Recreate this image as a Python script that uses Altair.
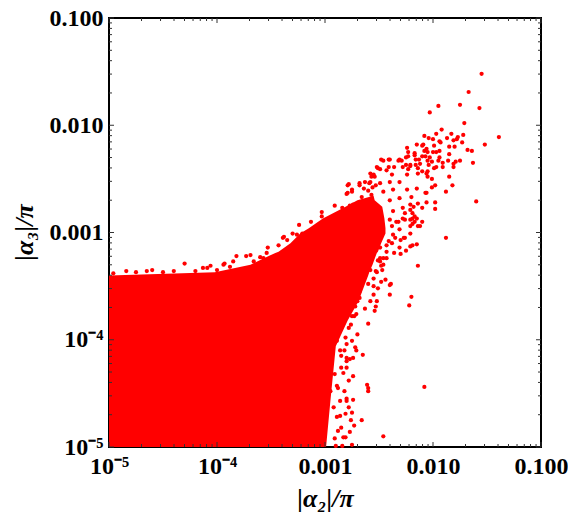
import altair as alt
import pandas as pd

# ---- scatter points (log10 of |alpha2|/pi and |alpha3|/pi) ----
a2_log10 = [
    -1.55, -1.67, -1.95, -1.75, -2.03, -1.57, -1.71, -1.92, -1.39, -1.52,
    -1.83, -1.72, -1.77, -1.78, -1.73, -1.81, -1.87, -1.97, -2.08, -2.04,
    -2.00, -1.94, -1.93, -1.85, -1.80, -1.68, -1.64, -1.63, -1.75, -1.79,
    -1.81, -1.81, -1.85, -1.86, -1.94, -1.94, -1.95, -1.91, -1.91, -1.99,
    -2.00, -1.97, -2.03, -2.01, -1.97, -1.99, -2.09, -2.06, -2.08, -2.15,
    -2.24, -2.23, -2.25, -2.17, -2.16, -2.13, -2.10, -2.05, -2.29, -2.25,
    -2.21, -2.23, -2.16, -2.14, -2.10, -2.05, -2.05, -2.01, -1.98, -2.01,
    -2.07, -1.98, -1.98, -1.88, -1.82, -1.85, -1.60, -2.06, -2.14, -2.10,
    -2.18, -2.19, -2.12, -2.10, -2.17, -2.48, -2.41, -2.46, -2.32, -2.52,
    -2.49, -2.43, -2.36, -2.58, -2.54, -2.63, -2.59, -2.56, -2.78, -2.79,
    -2.68, -2.64, -2.60, -2.53, -2.91, -2.77, -2.84, -3.03, -3.03, -3.13,
    -3.24, -3.38, -3.35, -3.30, -3.21, -3.19, -1.88, -2.14, -2.15, -2.19,
    -2.25, -2.30, -2.36, -2.39, -2.44, -2.55, -2.30, -2.21, -2.27, -2.35,
    -2.19, -2.21, -2.17, -2.19, -2.21, -2.28, -2.26, -2.32, -2.38, -2.37,
    -2.41, -2.43, -2.49, -2.43, -2.49, -2.47, -2.53, -2.20, -2.22, -2.08,
    -2.46, -2.60, -2.60, -2.65, -2.61, -2.60, -2.60, -2.40, -2.40, -2.52,
    -2.54, -2.53, -2.66, -2.75, -2.73, -2.77, -2.75, -2.81, -2.70, -2.71,
    -2.74, -2.72, -2.75, -2.76, -2.71, -2.73, -2.58, -2.51, -2.46, -2.48,
    -2.80, -2.78, -2.82, -2.78, -2.83, -2.80, -2.82, -2.80, -2.70, -2.76,
    -2.72, -2.68, -2.75, -2.67, -4.60, -4.30, -3.82, -3.73, -3.69, -3.54,
    -4.06, -3.94, -4.13, -4.40, -4.65, -4.84, -4.96, -4.75, -4.50, -4.20,
    -4.00, -3.88, -3.85, -3.66, -3.57, -2.80, -2.75, -2.79, -2.57, -3.53,
    -3.43, -3.39, -3.26, -3.22, -3.93, -4.09, -3.60, -2.91, -2.99, -3.07,
    -2.85, -2.84, -2.74, -2.80, -2.74, -2.76, -2.74, -2.80, -2.77, -2.88,
    -2.86, -2.89, -2.85, -2.87, -2.81, -2.84, -2.90,
]
a3_log10 = [
    -1.52, -1.69, -1.82, -1.81, -1.88, -1.84, -1.98, -2.04, -2.11, -2.18,
    -2.08, -2.09, -2.11, -2.13, -2.16, -2.14, -2.12, -2.08, -2.10, -2.12,
    -2.13, -2.15, -2.16, -2.20, -2.20, -2.23, -2.24, -2.35, -2.33, -2.34,
    -2.36, -2.39, -2.27, -2.33, -2.24, -2.30, -2.33, -2.35, -2.39, -2.19,
    -2.25, -2.25, -2.30, -2.34, -2.39, -2.40, -2.18, -2.22, -2.24, -2.18,
    -2.21, -2.25, -2.30, -2.26, -2.32, -2.32, -2.29, -2.33, -2.33, -2.37,
    -2.38, -2.41, -2.37, -2.40, -2.43, -2.43, -2.48, -2.50, -2.56, -2.58,
    -2.63, -2.72, -2.78, -2.62, -2.56, -2.48, -2.71, -2.72, -2.73, -2.77,
    -2.76, -2.87, -2.94, -2.90, -2.90, -2.32, -2.32, -2.33, -2.33, -2.39,
    -2.41, -2.42, -2.39, -2.45, -2.48, -2.53, -2.54, -2.58, -2.55, -2.63,
    -2.54, -2.59, -2.61, -2.56, -2.75, -2.75, -2.77, -2.81, -2.85, -2.90,
    -2.93, -3.04, -3.07, -3.01, -3.01, -3.05, -3.05, -3.31, -3.11, -3.12,
    -3.17, -3.20, -3.19, -3.48, -3.44, -3.50, -3.07, -3.01, -3.05, -3.05,
    -2.92, -2.88, -2.85, -2.82, -2.79, -2.87, -2.82, -2.90, -2.94, -3.02,
    -3.08, -3.12, -3.14, -3.24, -3.27, -3.35, -3.36, -3.60, -3.68, -4.44,
    -4.90, -3.48, -3.85, -4.14, -4.42, -4.45, -4.48, -3.49, -3.58, -3.64,
    -3.73, -3.69, -4.75, -4.68, -4.80, -4.86, -4.98, -4.91, -3.95, -4.10,
    -4.17, -4.07, -4.01, -3.86, -3.76, -3.78, -3.35, -3.26, -3.24, -3.31,
    -4.57, -4.63, -4.48, -4.38, -4.31, -4.20, -4.10, -4.04, -3.64, -3.67,
    -3.59, -3.55, -3.52, -3.49, -3.35, -3.29, -3.22, -3.22, -3.21, -3.19,
    -3.31, -3.30, -3.33, -3.36, -3.36, -3.36, -3.38, -3.37, -3.37, -3.36,
    -3.35, -3.32, -3.27, -3.27, -3.24, -2.64, -2.60, -2.56, -2.48, -3.14,
    -3.12, -3.05, -3.02, -3.04, -3.29, -3.33, -3.23, -2.89, -2.89, -2.96,
    -2.85, -2.93, -2.74, -4.55, -4.56, -4.75, -4.34, -4.26, -4.18, -4.85,
    -4.71, -4.43, -4.15, -3.83, -3.73, -4.99, -4.99,
]

# extra points inside the rising cloud
cloud_a2_log10 = [
    -2.10, -2.05, -2.07, -2.17, -2.23, -2.31, -2.40, -2.41, -2.51, -2.55,
    -2.38, -2.28, -2.21, -2.12, -2.04, -2.14, -2.06, -2.24, -2.31, -2.40,
    -2.49, -2.58, -2.46, -2.37, -2.24, -2.15, -2.06, -2.20, -2.31, -2.40,
    -2.21, -2.28, -2.37, -2.15, -2.26, -2.34, -2.40, -2.21, -2.14, -2.31,
    -2.26, -2.31, -2.21, -2.38, -2.43, -2.49, -2.46, -2.52, -2.55, -2.48,
    -2.51, -2.55, -2.58, -2.63, -2.75, -2.66, -2.57, -2.68,
]
cloud_a3_log10 = [
    -2.19, -2.25, -2.29, -2.28, -2.29, -2.32, -2.32, -2.39, -2.40, -2.46,
    -2.46, -2.39, -2.37, -2.36, -2.37, -2.45, -2.45, -2.46, -2.53, -2.53,
    -2.54, -2.53, -2.62, -2.60, -2.60, -2.59, -2.63, -2.67, -2.68, -2.70,
    -2.74, -2.77, -2.80, -2.87, -2.88, -2.90, -2.88, -2.94, -2.94, -2.97,
    -3.05, -3.14, -3.13, -3.10, -3.18, -3.24, -3.30, -3.37, -3.43, -3.46,
    -3.52, -3.58, -3.64, -3.71, -2.62, -2.67, -2.65, -2.56,
]

# extra points along the right-hand fringe of the saturated block
fringe_a2_log10 = [-2.91, -2.83, -2.85, -2.89, -2.81, -2.92, -2.86, -2.95, -2.88, -2.91,
                   -2.85, -2.94, -2.80, -2.86, -2.89, -2.81, -2.88, -2.78, -2.85, -2.75,
                   -2.72, -2.75, -2.68]
fringe_a3_log10 = [-4.92, -4.91, -4.82, -4.72, -4.69, -4.63, -4.57, -4.48, -4.45, -4.32,
                   -4.26, -4.20, -4.17, -4.10, -4.01, -3.98, -3.92, -3.89, -3.82, -3.78,
                   -3.69, -3.62, -3.61]

all_a2 = a2_log10 + cloud_a2_log10 + fringe_a2_log10
all_a3 = a3_log10 + cloud_a3_log10 + fringe_a3_log10
assert len(all_a2) == len(all_a3)

# ---- outline of the fully saturated core of the point cloud (log10 units) ----
core_a3_log10 = [-5.00, -4.57, -4.06, -3.82, -3.64, -3.40, -3.37, -3.30, -3.19,
                 -3.18, -3.10, -3.01, -2.96, -2.87, -2.76, -2.70, -2.66]
core_a2_left_log10 = [-5.00, -5.00, -5.00, -5.00, -5.00, -5.00, -4.02, -3.69, -3.46,
                      -3.43, -3.32, -3.23, -3.15, -3.02, -2.81, -2.70, -2.56]
core_a2_right_log10 = [-2.99, -2.95, -2.90, -2.79, -2.69, -2.60, -2.59, -2.56, -2.52,
                       -2.51, -2.48, -2.44, -2.44, -2.45, -2.47, -2.54, -2.55]

# ---- axis ticks ----
major_ticks = [1e-5, 1e-4, 1e-3, 1e-2, 1e-1]
minor_mult = [2, 3, 4, 5, 6, 7, 8, 9]
minor_ticks = [m * d for d in major_ticks[:-1] for m in minor_mult]

W, H = 432, 429
RED = "#FF0000"
FONT = "Liberation Serif"

pts = pd.DataFrame({"a2": [10 ** v for v in all_a2],
                    "a3": [10 ** v for v in all_a3]})
core = pd.DataFrame({"a3": [10 ** v for v in core_a3_log10],
                     "left": [10 ** v for v in core_a2_left_log10],
                     "right": [10 ** v for v in core_a2_right_log10]})

xscale = alt.Scale(type="log", domain=[1e-5, 0.1], nice=False)
yscale = alt.Scale(type="log", domain=[1e-5, 0.1], nice=False)

label_expr = ("datum.value < 0.00005 ? '10⁻⁵' : (datum.value < 0.0005 ? '10⁻⁴' : "
              "format(datum.value, '.3f'))")

common = dict(values=major_ticks, labelExpr=label_expr, ticks=False, domain=False,
              grid=False, labelFont=FONT, labelFontSize=24, labelFontWeight="bold",
              labelColor="black", labelOverlap=False, labelFlush=False,
              titleFont=FONT, titleFontSize=26, titleFontWeight="bold",
              titleFontStyle="italic", titleColor="black",
              titleBaseline="middle", titleAlign="center")
xaxis = alt.Axis(title="|α₂|/π", labelPadding=7, titleX=216, titleY=51, **common)
yaxis = alt.Axis(title="|α₃|/π", labelPadding=6, titleX=-85, titleY=214,
                 titleAngle=-90, **common)

core_layer = alt.Chart(core).mark_area(orient="horizontal", color=RED, opacity=1).encode(
    y=alt.Y("a3:Q", scale=yscale, axis=yaxis),
    x=alt.X("left:Q", scale=xscale, axis=xaxis),
    x2="right:Q",
)

point_layer = alt.Chart(pts).mark_circle(color=RED, opacity=1, size=18).encode(
    x=alt.X("a2:Q", scale=xscale),
    y=alt.Y("a3:Q", scale=yscale),
)


def tick_layers(values, length):
    df = pd.DataFrame({"v": values})
    base = alt.Chart(df).mark_rule(color="#333333", strokeWidth=1)
    return [
        base.encode(x=alt.X("v:Q", scale=xscale), y=alt.value(H), y2=alt.value(H - length)),
        base.encode(x=alt.X("v:Q", scale=xscale), y=alt.value(0), y2=alt.value(length)),
        base.encode(y=alt.Y("v:Q", scale=yscale), x=alt.value(0), x2=alt.value(length)),
        base.encode(y=alt.Y("v:Q", scale=yscale), x=alt.value(W), x2=alt.value(W - length)),
    ]


layers = [core_layer, point_layer] + tick_layers(major_ticks, 5) + tick_layers(minor_ticks, 3)

chart = alt.layer(*layers).properties(
    width=W, height=H,
    autosize=alt.AutoSizeParams(type="none"),
    padding={"left": 101, "top": 10, "right": 27, "bottom": 66},
    background="white",
).configure_view(stroke="black", strokeWidth=2)

chart.save("out.html", embed_options={"renderer": "svg", "actions": False})
